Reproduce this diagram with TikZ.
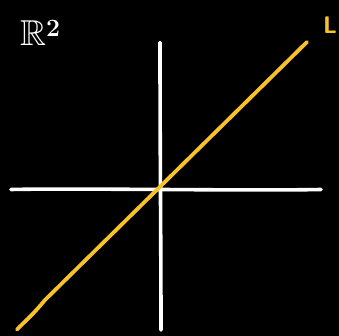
\documentclass[tikz,border=0pt]{standalone}
\usepackage{amsmath,amssymb}
\usetikzlibrary{calc}
\definecolor{lineyellow}{RGB}{250,194,42}

\begin{document}
\begin{tikzpicture}[x=1pt,y=-1pt,line cap=round,line join=round]
  \fill[black] (0,0) rectangle (339,336);
  \useasboundingbox (0,0) rectangle (339,336);
  % axes
  \draw[white,line width=3.6pt] (11,189.5) .. controls (80,188) and (240,191) .. (321,189.5);
  \draw[white,line width=3.6pt] (160,42.5) .. controls (160,150) and (161,250) .. (161,330);
  % line through origin
  \draw[lineyellow,line width=3.8pt] (17,329.5) .. controls (24,322) and (30,318) .. (45,300)
    -- (307,42);
  \node[white,anchor=south west,inner sep=0pt,font=\fontsize{36}{36}\selectfont] (plane) at (20,46) {$\mathbb{R}^{\boldsymbol{2}}$};
  \node[lineyellow,anchor=south west,inner sep=0pt,font=\fontsize{24}{24}\selectfont\sffamily\bfseries] (lbl) at (323,34) {L};
\end{tikzpicture}
\end{document}
